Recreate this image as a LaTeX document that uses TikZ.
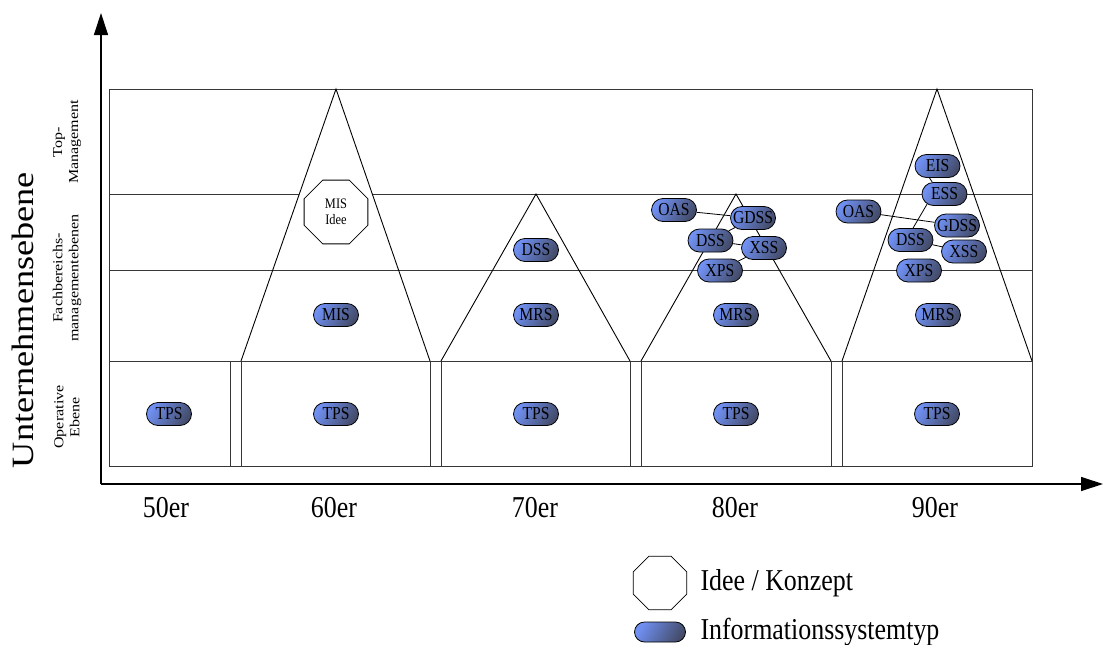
\documentclass[tikz,border=0pt]{standalone}
\usepackage{fontspec}
\setmainfont{Liberation Serif}
% narrow face for upright text, wide face for text set along the vertical axis
\newfontfamily\tallface[FakeStretch=0.855]{Liberation Serif}
\newfontfamily\longface[FakeStretch=1.17]{Liberation Serif}
\usetikzlibrary{arrows.meta,shapes.geometric,shapes.misc,backgrounds}
\definecolor{pillA}{RGB}{112,144,242}
\definecolor{pillB}{RGB}{68,76,106}
\definecolor{frame}{RGB}{55,55,55}
\tikzset{
  pill/.style={rounded rectangle, draw=black, line width=0.8pt,
    left color=pillA, right color=pillB, shading angle=60,
    minimum width=49pt, minimum height=23pt, inner xsep=2pt, inner ysep=0pt,
    font=\tallface\fontsize{18.3}{18}\selectfont},
  idea/.style={regular polygon, regular polygon sides=8, draw=black, fill=white,
    line width=0.8pt, inner sep=0pt},
  gridline/.style={draw=frame, line width=1pt},
  tri/.style={draw=black, line width=0.9pt},
  link/.style={draw=black, line width=0.8pt},
  axisline/.style={draw=black, line width=1.2pt, -{Triangle[length=22pt,width=14pt]}},
  decade/.style={font=\tallface\fontsize{30.3}{30}\selectfont},
  level/.style={rotate=90, align=center, font=\longface\fontsize{13.7}{16}\selectfont},
  legendtext/.style={anchor=west, font=\tallface\fontsize{30.3}{30}\selectfont},
}
\begin{document}
\begin{tikzpicture}[x=1pt, y=-1pt]
\useasboundingbox (0,0) rectangle (1103,645);

% axes
\coordinate (origin) at (101,484);
\coordinate (ytip) at (101,13);
\coordinate (xtip) at (1103,484);
\draw[axisline] (origin) -- (ytip);
\draw[axisline] (origin) -- (xtip);

% frame and level lines
\draw[gridline] (109,89) rectangle (1032,466);
\draw[gridline] (109,194) -- (299.3,194);
\draw[gridline] (372.7,194) -- (1032,194);
\draw[gridline] (109,270) -- (1032,270);
\draw[gridline] (109,361) -- (1032,361);
\foreach \x in {230,241,430,441,630,641,831,842}
  \draw[gridline] (\x,361) -- (\x,466);

% pyramids of each decade
\draw[tri] (241,361) -- (336,89) -- (430,361);
\draw[tri] (441,361) -- (536,194) -- (630,361);
\draw[tri] (641,361) -- (736,194) -- (831,361);
\draw[tri] (842,361) -- (937,89) -- (1032,361);

% axis titles
\node[rotate=90, font=\longface\fontsize{31}{31}\selectfont] (yaxis) at (23,320) {Unternehmensebene};
\node[level] (ltop) at (67,142) {Top-\\Management};
\node[level] (lmid) at (67,278) {Fachbereichs-\\managementebenen};
\node[level] (lop) at (67,417) {Operative\\Ebene};

% decades
\node[decade] (d50) at (166,508) {50er};
\node[decade] (d60) at (334,508) {60er};
\node[decade] (d70) at (535,508) {70er};
\node[decade] (d80) at (735,508) {80er};
\node[decade] (d90) at (935,508) {90er};

% 50er
\node[pill] (tps50) at (169,414) {TPS};
% 60er
\node[pill] (tps60) at (336,414) {TPS};
\node[pill] (mis60) at (336,315) {MIS};
\node[idea, minimum size=69pt, align=center, font=\tallface\fontsize{14.5}{16.5}\selectfont] (misidee) at (336,212) {MIS\\Idee};
% 70er
\node[pill] (tps70) at (536,414) {TPS};
\node[pill] (mrs70) at (536,315) {MRS};
\node[pill] (dss70) at (536,250) {DSS};
% 80er
\node[pill] (tps80) at (736,414) {TPS};
\node[pill] (mrs80) at (736,315) {MRS};
\node[pill] (oas80) at (674,210) {OAS};
\node[pill] (gdss80) at (753,218) {GDSS};
\node[pill] (dss80) at (710.5,240.5) {DSS};
\node[pill] (xss80) at (764,248) {XSS};
\node[pill] (xps80) at (720,270.5) {XPS};
% 90er
\node[pill] (tps90) at (937,414) {TPS};
\node[pill] (mrs90) at (938,315) {MRS};
\node[pill] (eis90) at (937.5,166) {EIS};
\node[pill] (ess90) at (944.5,194) {ESS};
\node[pill] (oas90) at (858.5,211.5) {OAS};
\node[pill] (gdss90) at (957,225.5) {GDSS};
\node[pill] (dss90) at (910.5,240) {DSS};
\node[pill] (xss90) at (964,251.5) {XSS};
\node[pill] (xps90) at (919,270.5) {XPS};

% relations between systems
\begin{pgfonlayer}{background}
  \draw[link] (oas80) -- (gdss80);
  \draw[link] (dss80) -- (gdss80);
  \draw[link] (dss80) -- (xss80);
  \draw[link] (xss80) -- (xps80);
  \draw[link] (eis90.236) -- (ess90.136);
  \draw[link] (ess90.210) -- (dss90.78);
  \draw[link] (oas90) -- (gdss90);
  \draw[link] (dss90) -- (xss90);
\end{pgfonlayer}

% legend
\node[idea, minimum size=58pt] (legidea) at (660,583) {};
\node[legendtext] (legideatext) at (697,583) {Idee / Konzept};
\node[pill, minimum width=55pt, minimum height=20pt] (legpill) at (660,632) {};
\node[legendtext] (legpilltext) at (697,632) {Informationssystemtyp};
\end{tikzpicture}
\end{document}
